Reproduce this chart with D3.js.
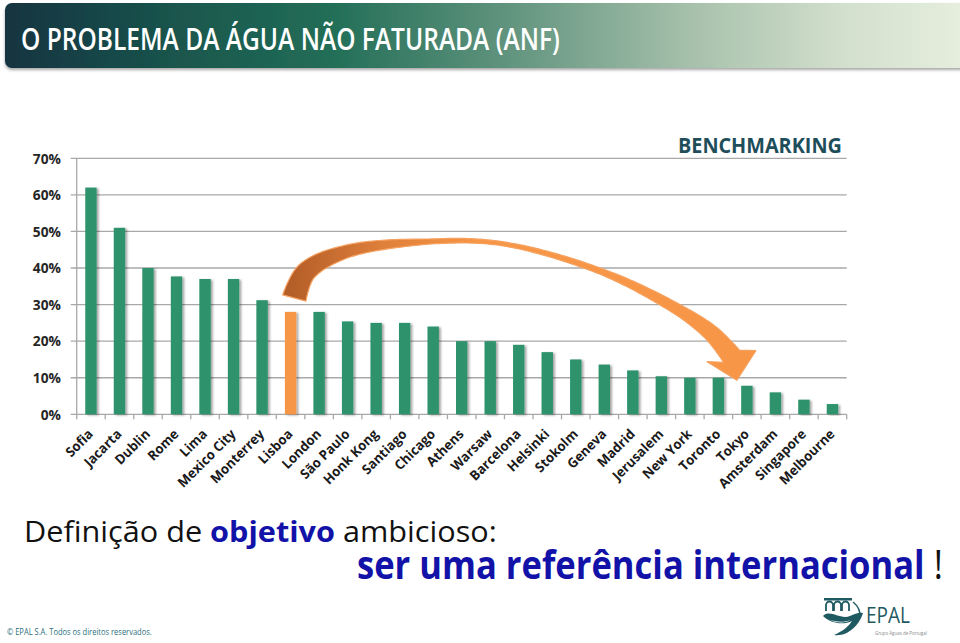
<!DOCTYPE html>
<meta charset="utf-8">
<style>

body {
  margin: 0;
  background: #fff;
}

svg {
  display: block;
  font-family: "Open Sans", "Noto Sans", sans-serif;
}

</style>
<body>
<script src="https://cdn.jsdelivr.net/npm/d3@7/dist/d3.min.js"></script>
<script>

var width = 960,
    height = 643;

var cities = ["Sofia", "Jacarta", "Dublin", "Rome", "Lima", "Mexico City", "Monterrey",
  "Lisboa", "London", "São Paulo", "Honk Kong", "Santiago", "Chicago", "Athens",
  "Warsaw", "Barcelona", "Helsinki", "Stokolm", "Geneva", "Madrid", "Jerusalem",
  "New York", "Toronto", "Tokyo", "Amsterdam", "Singapore", "Melbourne"];

var nrw = [62, 51, 40, 37.7, 37, 37, 31.2, 28, 28, 25.4, 25, 25, 24, 20, 20, 19,
  17, 15, 13.6, 12, 10.4, 10, 10, 7.8, 6, 4, 2.8];

var yTicks = [0, 10, 20, 30, 40, 50, 60, 70];

var highlight = "Lisboa";

// arrow centre line: [category position, value %, width px]
var arrowLine = [
  [7.63, 31.8, 24], [8.04, 38.9, 20], [9.41, 44.4, 13], [12.4, 47.25, 5],
  [14.96, 46.6, 4], [18.47, 38.8, 6], [21.17, 28.2, 11], [22.29, 21.9, 16],
  [22.96, 15.9, 20]
];
var arrowTip = [23.15, 9.3];

var svg = d3.select("body").append("svg")
    .attr("width", width)
    .attr("height", height);

var defs = svg.append("defs");

var hg = defs.append("linearGradient").attr("id", "headGrad");
[[0, "#133440"], [0.2, "#1b5a4f"], [0.33, "#226e57"], [0.5, "#5e927c"],
 [0.7, "#a9c2ad"], [0.85, "#d3e0cd"], [1, "#ebf2e2"]].forEach(function(s) {
  hg.append("stop").attr("offset", s[0]).attr("stop-color", s[1]);
});

defs.append("filter").attr("id", "headShadow")
    .attr("x", "-5%").attr("y", "-20%").attr("width", "110%").attr("height", "150%")
  .append("feDropShadow")
    .attr("dx", 0).attr("dy", 2).attr("stdDeviation", 1.5)
    .attr("flood-color", "#000").attr("flood-opacity", 0.35);

defs.append("filter").attr("id", "barShadow")
    .attr("x", "-50%").attr("y", "-10%").attr("width", "200%").attr("height", "120%")
  .append("feDropShadow")
    .attr("dx", 2).attr("dy", 1).attr("stdDeviation", 1)
    .attr("flood-color", "#000").attr("flood-opacity", 0.35);

// fit a text element to a given width by squeezing it horizontally
function fit(text, x, y, w) {
  text.attr("x", 0).attr("y", 0);
  var bw = text.node().getBBox().width;
  text.attr("transform", "translate(" + x + "," + y + ") scale(" + (w / bw) + ",1)");
  return text;
}

// header band
svg.append("rect")
    .attr("x", 5).attr("y", 3)
    .attr("width", 990).attr("height", 65)
    .attr("rx", 7)
    .attr("fill", "url(#headGrad)")
    .attr("filter", "url(#headShadow)");

fit(svg.append("text")
    .attr("fill", "#fff")
    .attr("font-size", 31)
    .attr("font-weight", 600)
    .text("O PROBLEMA DA ÁGUA NÃO FATURADA (ANF)"), 21, 50, 539);

// chart
var x = d3.scaleBand()
    .domain(cities)
    .range([76.7, 846.7])
    .paddingInner(0.6)
    .paddingOuter(0.3);

var y = d3.scaleLinear()
    .domain([0, 70])
    .range([414.3, 158.3]);

var x0 = x.range()[0],
    x1 = x.range()[1],
    step = x.step();

svg.append("g").selectAll("line")
    .data(yTicks)
  .enter().append("line")
    .attr("x1", x0 - 6).attr("x2", x1)
    .attr("y1", function(d) { return y(d); })
    .attr("y2", function(d) { return y(d); })
    .attr("stroke", "#a8a8a8")
    .attr("stroke-width", 1.3);

svg.append("line")
    .attr("x1", x0).attr("x2", x0)
    .attr("y1", y(70)).attr("y2", y(0))
    .attr("stroke", "#a8a8a8")
    .attr("stroke-width", 1.3);

svg.append("g").selectAll("line")
    .data(d3.range(cities.length + 1))
  .enter().append("line")
    .attr("x1", function(i) { return x0 + i * step; })
    .attr("x2", function(i) { return x0 + i * step; })
    .attr("y1", y(0)).attr("y2", y(0) + 5)
    .attr("stroke", "#a8a8a8")
    .attr("stroke-width", 1.3);

svg.append("g").selectAll("text")
    .data(yTicks)
  .enter().append("text")
    .attr("text-anchor", "end")
    .attr("font-size", 14.5)
    .attr("font-weight", 700)
    .attr("fill", "#262626")
    .attr("dy", "0.36em")
    .attr("transform", function(d) { return "translate(61," + y(d) + ") scale(0.95,1)"; })
    .text(function(d) { return d + "%"; });

svg.append("g").selectAll("rect")
    .data(cities)
  .enter().append("rect")
    .attr("x", function(d) { return x(d); })
    .attr("width", x.bandwidth())
    .attr("y", function(d, i) { return y(nrw[i]); })
    .attr("height", function(d, i) { return y(0) - y(nrw[i]); })
    .attr("fill", function(d) { return d === highlight ? "#f79646" : "#2e936c"; })
    .attr("filter", "url(#barShadow)");

svg.append("g").selectAll("text")
    .data(cities)
  .enter().append("text")
    .attr("text-anchor", "end")
    .attr("font-size", 13.5)
    .attr("font-weight", 700)
    .attr("fill", "#1a1a1a")
    .attr("transform", function(d) {
      return "translate(" + (x(d) + x.bandwidth() / 2 + 3) + ",435) rotate(-45) scale(0.97,1)";
    })
    .text(function(d) { return d; });

fit(svg.append("text")
    .attr("fill", "#1f4e5b")
    .attr("font-size", 21.5)
    .attr("font-weight", 700)
    .text("BENCHMARKING"), 678, 152.7, 164);

// curved arrow from Lisboa down to the best performers
var ag = defs.append("linearGradient").attr("id", "arrowGrad")
    .attr("gradientUnits", "userSpaceOnUse")
    .attr("x1", x0 + 7.5 * step).attr("x2", x0 + 14 * step)
    .attr("y1", 0).attr("y2", 0);
[[0, "#b45e28"], [0.5, "#df803b"], [1, "#f79646"]].forEach(function(s) {
  ag.append("stop").attr("offset", s[0]).attr("stop-color", s[1]);
});

var pts = arrowLine.map(function(d) { return [x0 + d[0] * step, y(d[1])]; });
var guide = svg.append("path")
    .attr("d", d3.line().curve(d3.curveCatmullRom.alpha(0.5))(pts))
    .attr("fill", "none");
var node = guide.node(),
    L = node.getTotalLength();

var cum = [0];
for (var i = 1; i < pts.length; i++) {
  cum.push(cum[i - 1] + Math.hypot(pts[i][0] - pts[i - 1][0], pts[i][1] - pts[i - 1][1]));
}
var wScale = d3.scaleLinear()
    .domain(cum.map(function(c) { return c / cum[cum.length - 1] * L; }))
    .range(arrowLine.map(function(d) { return d[2]; }));

var outer = [], inner = [], N = 150;
for (var k = 0; k <= N; k++) {
  var s = L * k / N,
      p = node.getPointAtLength(s),
      pa = node.getPointAtLength(Math.max(0, s - 0.5)),
      pb = node.getPointAtLength(Math.min(L, s + 0.5)),
      dx = pb.x - pa.x, dy = pb.y - pa.y,
      len = Math.hypot(dx, dy),
      nx = -dy / len, ny = dx / len,
      hw = wScale(s) / 2;
  outer.push([p.x - nx * hw, p.y - ny * hw]);
  inner.push([p.x + nx * hw, p.y + ny * hw]);
}
guide.remove();

var H = pts[pts.length - 1],
    T = [x0 + arrowTip[0] * step, y(arrowTip[1])],
    hl = Math.hypot(T[0] - H[0], T[1] - H[1]),
    hx = (T[0] - H[0]) / hl, hy = (T[1] - H[1]) / hl,
    rb = [H[0] + hy * 25, H[1] - hx * 25],
    lb = [H[0] - hy * 25, H[1] + hx * 25];

var poly = outer.concat([rb, T, lb], inner.reverse());

svg.append("path")
    .attr("d", "M" + poly.join("L") + "Z")
    .attr("fill", "url(#arrowGrad)")
    .attr("stroke", "#f5a261")
    .attr("stroke-width", 1.2)
    .attr("stroke-linejoin", "round");

// bottom message
var t1 = svg.append("text")
    .attr("font-size", 29)
    .attr("fill", "#111");
t1.append("tspan").text("Definição de ");
t1.append("tspan").attr("font-weight", 700).attr("fill", "#1212a8").text("objetivo");
t1.append("tspan").text(" ambicioso:");
fit(t1, 24, 542, 473);

var t2 = svg.append("text")
    .attr("font-size", 40);
t2.append("tspan").attr("font-weight", 700).attr("fill", "#1212a8").text("ser uma referência internacional");
t2.append("tspan").attr("fill", "#111").text(" !");
fit(t2, 357, 579, 586);

// footer
fit(svg.append("text")
    .attr("font-size", 9)
    .attr("fill", "#2c7080")
    .text("© EPAL S.A. Todos os direitos reservados."), 7, 635, 145);

var logo = svg.append("g")
    .attr("transform", "translate(822,596)")
    .attr("fill", "#1f5a62");

logo.append("rect").attr("x", 2).attr("y", 2).attr("width", 28).attr("height", 2.5);
logo.append("path")
    .attr("fill", "none")
    .attr("stroke", "#1f5a62")
    .attr("stroke-width", 1.8)
    .attr("d", "M4,15V9A3.5,3.5 0 0 1 11,9V15M12,15V9A3.5,3.5 0 0 1 19,9V15M20,15V9A3.5,3.5 0 0 1 27,9V15");
logo.append("path")
    .attr("fill", "none")
    .attr("stroke", "#1f5a62")
    .attr("stroke-width", 1.5)
    .attr("d", "M31,6A18,18 0 0 1 38,22");
logo.append("path")
    .attr("d", "M1,20C8,13 18,24 28,20C33,18 37,16 41,17C37,30 25,41 12,39C21,35 27,30 30,25C22,29 9,28 1,20Z");
logo.append("path")
    .attr("fill", "#fff")
    .attr("d", "M6,23C13,26 21,27 29,24C24,27 15,28 6,23Z");

fit(svg.append("text")
    .attr("font-size", 22)
    .attr("fill", "#1f5a62")
    .text("EPAL"), 866, 623, 44);

fit(svg.append("text")
    .attr("font-size", 5)
    .attr("fill", "#8a8a8a")
    .text("Grupo Águas de Portugal"), 875, 635, 52);

</script>
